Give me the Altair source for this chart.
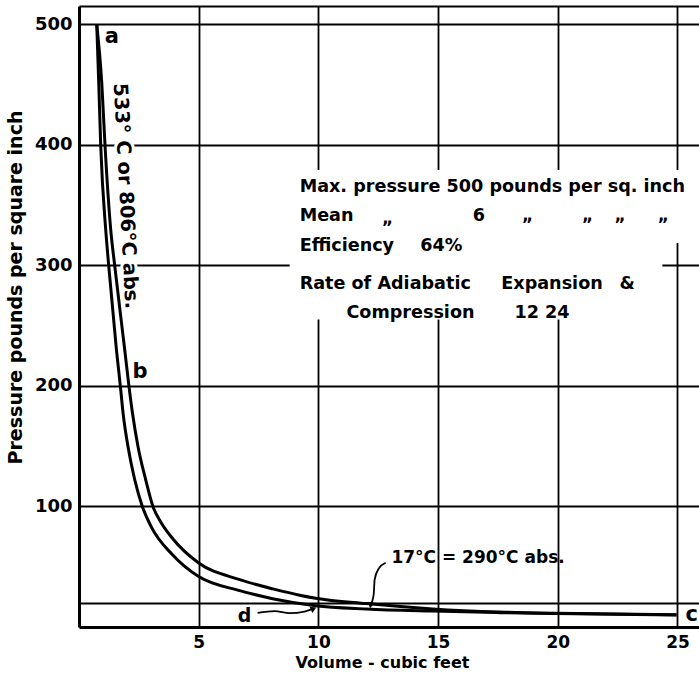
import altair as alt
import pandas as pd

# ---- data ----
# inner curve: a -> d (adiabatic compression), then d -> c (isothermal at 290 abs)
inner_vol = [0.741, 0.825, 0.908, 1.117, 1.242, 1.564, 1.731, 1.839, 2.048, 2.328, 2.649,
             3.025, 3.927, 5.0, 6.712, 8.09, 9.885, 12.0, 14.77, 17.57, 19.9, 24.96]
inner_pres = [500, 451.1, 398.9, 329.3, 299.5, 229.9, 199.2, 177.7, 149.5, 122.1, 99.8,
              82.8, 59.5, 41.8, 30.2, 23.5, 17.7, 15.0, 13.2, 11.9, 11.1, 9.9]
# outer curve: a -> b (isothermal at 806 abs), then b -> c (adiabatic expansion)
outer_vol = [0.741, 0.951, 1.088, 1.326, 1.493, 1.910, 2.090, 2.232, 2.466, 2.787, 3.092,
             3.434, 3.927, 5.0, 6.712, 8.102, 9.217, 9.885, 12.0, 14.77, 17.57, 19.9, 24.96]
outer_pres = [500, 451.1, 398.9, 329.3, 299.5, 229.9, 199.2, 177.7, 149.5, 122.1, 99.8,
              86.5, 73.0, 53.1, 39.3, 31.6, 26.4, 23.9, 19.4, 15.0, 12.4, 11.3, 10.1]

x_ticks = [5, 10, 15, 20, 25]
y_ticks = [100, 200, 300, 400, 500]
y_top = 515          # top of the frame
low_line = 19.5      # horizontal reference line near the bottom

# point labels
pt_text = ["a", "b", "c", "d"]
pt_vol = [1.37, 2.55, 25.6, 6.92]
pt_pres = [489.4, 211.8, 9.7, 8.9]
pt_size = [21, 21, 21, 19]

# annotation block
note_text = ["Max. pressure 500 pounds per sq. inch", "Mean", "6", "Efficiency", "64%",
             "Rate of Adiabatic", "Expansion", "&", "Compression", "12 24"]
note_vol = [9.217, 9.217, 16.45, 9.217, 14.26, 9.217, 17.64, 22.58, 11.17, 18.19]
note_pres = [364.9, 340.9, 341.2, 316.3, 316.3, 284.6, 284.6, 284.6, 260.3, 260.3]
ditto_vol = [12.89, 18.74, 21.25, 22.60, 24.41]
ditto_pres = [334.3, 336.8, 336.8, 336.8, 336.8]

# white box behind the annotation block
box_v0 = [8.8, 8.8]
box_v1 = [25.9, 24.37]
box_p0 = [318.5, 255]
box_p1 = [379, 318.5]

# arrows
arrow_d_vol = [7.46, 8.17, 8.80, 9.42, 9.80]
arrow_d_pres = [11.7, 13.2, 11.5, 12.8, 15.2]
arrow_t_vol = [12.81, 12.52, 12.35, 12.31, 12.18]
arrow_t_pres = [53.3, 48.4, 39.3, 26.8, 18.0]

FONT = "DejaVu Sans"

curves = pd.DataFrame({
    "V": inner_vol + outer_vol,
    "P": inner_pres + outer_pres,
    "curve": ["inner"] * len(inner_vol) + ["outer"] * len(outer_vol),
    "order": list(range(len(inner_vol))) + list(range(len(outer_vol))),
})

xscale = alt.Scale(domain=[0, 25.9], nice=False, zero=False)
yscale = alt.Scale(domain=[0, y_top], nice=False, zero=False)

x_axis = alt.Axis(
    values=x_ticks, grid=True, gridColor="black", gridWidth=1.8, gridOpacity=1,
    domain=True, domainColor="black", domainWidth=3, ticks=False,
    labelFont=FONT, labelFontSize=17, labelFontWeight="bold", labelColor="black",
    labelPadding=7, labelFlush=False,
    title="Volume - cubic feet", titleFont=FONT, titleFontSize=16, titleFontWeight="bold",
    titleColor="black", titleX=303, titleY=35, titleAlign="center", titleBaseline="middle",
)
y_axis = alt.Axis(
    values=y_ticks + [y_top], grid=True, gridColor="black", gridWidth=2, gridOpacity=1,
    domain=True, domainColor="black", domainWidth=3, ticks=False,
    labelExpr="datum.value == %d ? '' : datum.label" % y_top,
    labelFont=FONT, labelFontSize=18, labelFontWeight="bold", labelColor="black",
    labelPadding=7, labelFlush=False,
    title="Pressure pounds per square inch", titleFont=FONT, titleFontSize=19,
    titleFontWeight="bold", titleColor="black", titleX=-64, titleY=281, titleAngle=270,
    titleAlign="center", titleBaseline="middle",
)

X = lambda f: alt.X(f, scale=xscale)
Y = lambda f: alt.Y(f, scale=yscale)

lines = alt.Chart(curves).mark_line(color="black", strokeWidth=3, interpolate="monotone").encode(
    x=alt.X("V:Q", scale=xscale, axis=x_axis),
    y=alt.Y("P:Q", scale=yscale, axis=y_axis),
    detail="curve:N",
    order="order:Q",
)

box_df = pd.DataFrame({"v0": box_v0, "v1": box_v1, "p0": box_p0, "p1": box_p1})
box = alt.Chart(box_df).mark_rect(color="white").encode(
    x=X("v0:Q"), x2="v1:Q", y=Y("p0:Q"), y2="p1:Q",
)

low_rule = alt.Chart(pd.DataFrame({"p": [low_line]})).mark_rule(color="black", strokeWidth=2).encode(
    y=Y("p:Q"),
)

arrows_df = pd.DataFrame({
    "V": arrow_d_vol + arrow_t_vol,
    "P": arrow_d_pres + arrow_t_pres,
    "arrow": ["d"] * len(arrow_d_vol) + ["t"] * len(arrow_t_vol),
    "order": list(range(len(arrow_d_vol))) + list(range(len(arrow_t_vol))),
})
arrows = alt.Chart(arrows_df).mark_line(color="black", strokeWidth=1.8, interpolate="monotone").encode(
    x=X("V:Q"), y=Y("P:Q"), detail="arrow:N", order="order:Q",
)
head_d = alt.Chart(pd.DataFrame({"V": [arrow_d_vol[-1]], "P": [arrow_d_pres[-1]]})).mark_point(
    shape="triangle-right", filled=True, color="black", size=45, angle=335, opacity=1
).encode(x=X("V:Q"), y=Y("P:Q"))
head_t = alt.Chart(pd.DataFrame({"V": [arrow_t_vol[-1]], "P": [arrow_t_pres[-1]]})).mark_point(
    shape="triangle-down", filled=True, color="black", size=45, angle=10, opacity=1
).encode(x=X("V:Q"), y=Y("P:Q"))

pts_df = pd.DataFrame({"t": pt_text, "V": pt_vol, "P": pt_pres, "s": pt_size})
pts = alt.Chart(pts_df).mark_text(font=FONT, fontWeight="bold", color="black", align="center",
                                  baseline="middle").encode(
    x=X("V:Q"), y=Y("P:Q"), text="t:N",
    size=alt.Size("s:Q", scale=None, legend=None),
)

notes_df = pd.DataFrame({"t": note_text, "V": note_vol, "P": note_pres})
notes = alt.Chart(notes_df).mark_text(font=FONT, fontWeight="bold", fontSize=17.6, color="black",
                                      align="left", baseline="middle").encode(
    x=X("V:Q"), y=Y("P:Q"), text="t:N",
)
ditto_df = pd.DataFrame({"V": ditto_vol, "P": ditto_pres, "t": ["\u201e"] * len(ditto_vol)})
ditto = alt.Chart(ditto_df).mark_text(font=FONT, fontWeight="bold", fontSize=17, color="black",
                                      align="center", baseline="alphabetic").encode(
    x=X("V:Q"), y=Y("P:Q"), text="t:N",
)

rot_df = pd.DataFrame({"t": ["533\u00b0 C or 806\u00b0C abs."], "V": [1.95], "P": [357.4]})
rot_halo = alt.Chart(rot_df).mark_text(font=FONT, fontWeight="bold", fontSize=19.5, angle=87,
                                       color="white", stroke="white", strokeWidth=6,
                                       align="center", baseline="middle").encode(
    x=X("V:Q"), y=Y("P:Q"), text="t:N",
)
rot_text = alt.Chart(rot_df).mark_text(font=FONT, fontWeight="bold", fontSize=19.5, angle=87,
                                       color="black", align="center", baseline="middle").encode(
    x=X("V:Q"), y=Y("P:Q"), text="t:N",
)

iso_df = pd.DataFrame({"t": ["17\u00b0C = 290\u00b0C abs."], "V": [13.05], "P": [57.3]})
iso_text = alt.Chart(iso_df).mark_text(font=FONT, fontWeight="bold", fontSize=17, color="black",
                                       align="left", baseline="middle").encode(
    x=X("V:Q"), y=Y("P:Q"), text="t:N",
)

chart = alt.layer(
    lines, box, low_rule, arrows, head_d, head_t, rot_halo, rot_text, pts, notes, ditto, iso_text
).properties(
    width=620, height=621,
    padding={"left": 79, "top": 6, "right": 0, "bottom": 50},
    autosize=alt.AutoSizeParams(type="none"),
    background="white",
).configure_view(strokeWidth=0)

chart.save("out.html", embed_options={"renderer": "svg", "actions": False})
